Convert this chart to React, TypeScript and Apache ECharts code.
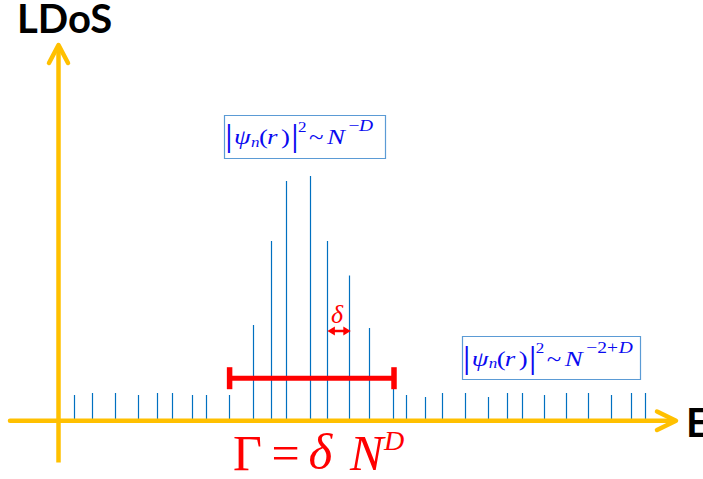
import React, { useEffect, useRef } from "react";
import * as echarts from "echarts";

// Energy positions of the eigenstates (arbitrary units, axis 0..100)
const energies = [
  2.7, 5.7, 9.55, 13.4, 16.55, 19.05, 22.4, 24.7, 28.55, 32.55, 35.55, 38.05,
  42.05, 44.9, 48.55, 51.9, 55.8, 58.05, 61.1, 64.05, 67.9, 71.7, 74.9, 77.4,
  81.05, 84.7, 88.4, 92.2, 95.55, 97.9,
];
// Local density of states (arbitrary units, axis 0..360)
const ldos = [
  25.5, 27.5, 27.5, 25.5, 27.5, 27.5, 25.5, 25.5, 25.5, 95.5, 179.5, 239.5,
  244.5, 179.5, 145, 92.5, 31.5, 25.5, 23.5, 27.5, 27.5, 23.5, 27.5, 27.5,
  25.5, 27.5, 27.5, 25.5, 27.5, 27.5,
];
// Width Γ of the peak (energy span) and the level where it is drawn
const gammaSpan = [28.6, 56.0];
const gammaLevel = 42.3;
// Level spacing δ (energy span) and its level
const deltaSpan = [44.9, 48.8];
const deltaLevel = 89.5;

const axisLabels = { y: "LDoS", x: "E" };

const SERIF = "'Liberation Serif','Times New Roman',serif";
const YELLOW = "#FFC000";
const BLUE_LINE = "#0070C0";
const BLUE_TXT = "#0A0AF0";
const RED = "#FF0000";

function txt(
  text: string,
  x: number,
  base: number,
  size: number,
  color: string,
  italic = false,
  sx = 1
) {
  return {
    type: "text",
    x,
    y: base - 0.3375 * size,
    scaleX: sx,
    z: 120,
    silent: true,
    style: {
      text,
      fill: color,
      fontStyle: italic ? "italic" : "normal",
      fontWeight: "normal",
      fontSize: size,
      fontFamily: SERIF,
      align: "left",
      verticalAlign: "middle",
    },
  };
}

function psiFormula(
  nx: number,
  base: number,
  sup: { t: string; dx: number; it: boolean }[]
) {
  const S = 1.22;
  const c = BLUE_TXT;
  const items: any[] = [
    txt("|", nx - 103, base + 2.5, 32, c, false, S),
    txt("ψ", nx - 94, base, 22, c, true, S),
    txt("n", nx - 77, base + 2.5, 14, c, true, S),
    txt("(", nx - 69, base, 22, c, false, S),
    txt("r", nx - 61, base, 22, c, true, S),
    txt(")", nx - 47, base, 22, c, false, S),
    txt("|", nx - 37, base + 2.5, 32, c, false, S),
    txt("2", nx - 30, base - 12.5, 14, c, false, S),
    txt("~", nx - 19, base, 22, c, false, S),
    txt("N", nx - 1, base, 22, c, true, S),
  ];
  sup.forEach((s) => items.push(txt(s.t, nx + s.dx, base - 12.5, 16, c, s.it, S)));
  return items;
}

export default function App() {
  const ref = useRef<HTMLDivElement>(null);

  useEffect(() => {
    document.body.style.margin = "0";
    document.body.style.overflow = "hidden";
    if (!ref.current) return;
    const chart = echarts.init(ref.current, undefined, { renderer: "svg" });

    const graphic: any[] = [
      // Axes (yellow arrows)
      {
        type: "line",
        z: 100,
        silent: true,
        shape: { x1: 10, y1: 420.7, x2: 674, y2: 420.7 },
        style: { stroke: YELLOW, lineWidth: 4.5, lineCap: "round" },
      },
      {
        type: "polyline",
        z: 100,
        silent: true,
        shape: { points: [[657, 411.5], [676, 420.7], [657, 430]] },
        style: { stroke: YELLOW, lineWidth: 4.5, lineCap: "round", lineJoin: "round", fill: "none" },
      },
      {
        type: "line",
        z: 100,
        silent: true,
        shape: { x1: 58.5, y1: 462.5, x2: 58.5, y2: 47 },
        style: { stroke: YELLOW, lineWidth: 4.5, lineCap: "butt" },
      },
      {
        type: "polyline",
        z: 100,
        silent: true,
        shape: { points: [[49, 63], [58.5, 45], [68, 63]] },
        style: { stroke: YELLOW, lineWidth: 4.5, lineCap: "round", lineJoin: "round", fill: "none" },
      },
      // Axis titles
      {
        type: "text",
        x: 17,
        y: 18,
        z: 120,
        silent: true,
        style: {
          text: axisLabels.y,
          fill: "#000",
          fontFamily: "Lato",
          fontWeight: "bold",
          fontSize: 40,
          align: "left",
          verticalAlign: "middle",
        },
      },
      {
        type: "text",
        x: 686,
        y: 421.5,
        z: 120,
        silent: true,
        style: {
          text: axisLabels.x,
          fill: "#000",
          fontFamily: "Lato",
          fontWeight: "bold",
          fontSize: 40,
          align: "left",
          verticalAlign: "middle",
        },
      },
      // Formula boxes
      {
        type: "rect",
        z: 110,
        silent: true,
        shape: { x: 224.5, y: 115.5, width: 161, height: 43 },
        style: { fill: "#fff", stroke: "#5B9BD5", lineWidth: 1.2 },
      },
      {
        type: "rect",
        z: 110,
        silent: true,
        shape: { x: 462.5, y: 336.5, width: 178, height: 43 },
        style: { fill: "#fff", stroke: "#5B9BD5", lineWidth: 1.2 },
      },
      ...psiFormula(328, 144, [
        { t: "−", dx: 20.5, it: false },
        { t: "D", dx: 31, it: true },
      ]),
      ...psiFormula(565.7, 365.5, [
        { t: "−2+", dx: 20.5, it: false },
        { t: "D", dx: 53, it: true },
      ]),
      // Γ = δ N^D
      txt("Γ", 233, 469.5, 50, RED),
      txt("=", 271.5, 469.5, 50, RED),
      txt("δ", 308.5, 469.5, 51, RED, true),
      txt("N", 350, 469.5, 50, RED, true),
      txt("D", 384, 450, 28, RED, true),
      // δ label
      txt("δ", 331, 323.5, 26, RED, true),
    ];

    chart.setOption({
      animation: false,
      backgroundColor: "#ffffff",
      grid: { left: 58, top: 60.5, width: 600, height: 360 },
      xAxis: { type: "value", min: 0, max: 100, show: false },
      yAxis: { type: "value", min: 0, max: 360, show: false },
      graphic,
      series: [
        {
          type: "custom",
          z: 2,
          clip: false,
          data: energies.map((e, i) => [e, ldos[i]]),
          renderItem: (_p: any, api: any) => {
            const p0 = api.coord([api.value(0), 0]);
            const p1 = api.coord([api.value(0), api.value(1)]);
            const x = Math.round(p0[0]) + 0.5;
            return {
              type: "line",
              shape: { x1: x, y1: p0[1], x2: x, y2: p1[1] },
              style: { stroke: BLUE_LINE, lineWidth: 1.2 },
            };
          },
        },
        {
          type: "custom",
          z: 5,
          clip: false,
          data: [[gammaSpan[0], gammaSpan[1], gammaLevel]],
          renderItem: (_p: any, api: any) => {
            const a = api.coord([api.value(0), api.value(2)]);
            const b = api.coord([api.value(1), api.value(2)]);
            return {
              type: "group",
              children: [
                { type: "rect", shape: { x: a[0], y: a[1] - 2.5, width: b[0] - a[0], height: 5 }, style: { fill: RED } },
                { type: "rect", shape: { x: a[0] - 2.75, y: a[1] - 11, width: 5.5, height: 22 }, style: { fill: RED } },
                { type: "rect", shape: { x: b[0] - 2.75, y: b[1] - 11, width: 5.5, height: 22 }, style: { fill: RED } },
              ],
            };
          },
        },
        {
          type: "custom",
          z: 5,
          clip: false,
          data: [[deltaSpan[0], deltaSpan[1], deltaLevel]],
          renderItem: (_p: any, api: any) => {
            const a = api.coord([api.value(0), api.value(2)]);
            const b = api.coord([api.value(1), api.value(2)]);
            const y = a[1];
            return {
              type: "group",
              children: [
                { type: "line", shape: { x1: a[0] + 5, y1: y, x2: b[0] - 5, y2: y }, style: { stroke: RED, lineWidth: 2.5 } },
                { type: "polygon", shape: { points: [[a[0], y], [a[0] + 7.5, y - 4.5], [a[0] + 7.5, y + 4.5]] }, style: { fill: RED } },
                { type: "polygon", shape: { points: [[b[0], y], [b[0] - 7.5, y - 4.5], [b[0] - 7.5, y + 4.5]] }, style: { fill: RED } },
              ],
            };
          },
        },
      ],
    });

    return () => chart.dispose();
  }, []);

  return <div ref={ref} style={{ width: 703, height: 479 }} />;
}
